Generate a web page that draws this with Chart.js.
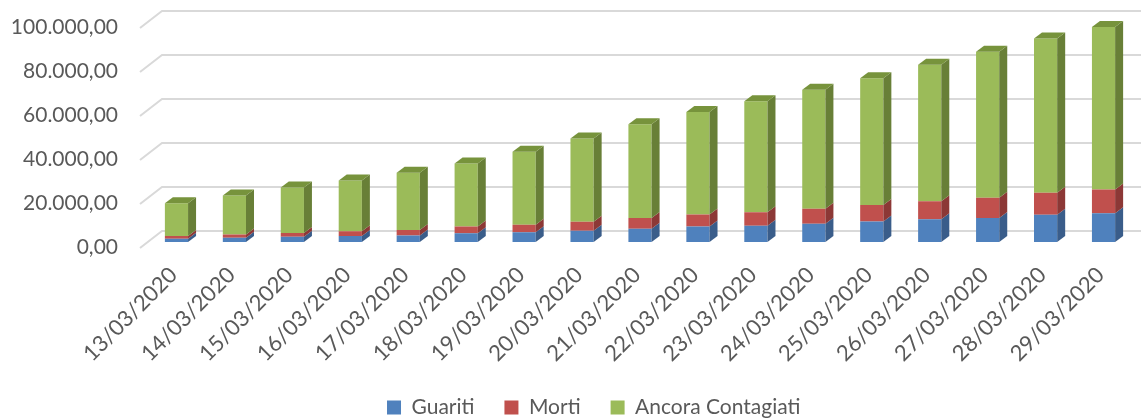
<!DOCTYPE html>
<html>
<head>
<meta charset="utf-8">
<script src="https://cdn.jsdelivr.net/npm/chart.js@4"></script>
<style>html,body{margin:0;padding:0;background:#fff}</style>
</head>
<body>
<canvas id="chart" width="1141" height="418"></canvas>
<script>
const labels = ["13/03/2020", "14/03/2020", "15/03/2020", "16/03/2020", "17/03/2020", "18/03/2020",
  "19/03/2020", "20/03/2020", "21/03/2020", "22/03/2020", "23/03/2020", "24/03/2020",
  "25/03/2020", "26/03/2020", "27/03/2020", "28/03/2020", "29/03/2020"];
const guariti = [1439, 1966, 2335, 2749, 2941, 4025, 4440, 5129, 6072, 7024, 7432, 8326, 9362, 10361, 10950, 12384, 13030];
const morti = [1266, 1441, 1809, 2158, 2503, 2978, 3405, 4032, 4825, 5476, 6077, 6820, 7503, 8165, 9134, 10023, 10779];
const contagiati = [14955, 17750, 20603, 23073, 26062, 28710, 33190, 37860, 42681, 46638, 50418, 54030, 57521, 62013, 66414, 70065, 73880];
const yMax = 100000;
const yStep = 20000;

const font = { family: "Lato", size: 21 };
const grey = "#595959";
const DX = 8, DY = 6;                     // bar depth
const sideColors = ["#3a5d8a", "#8c3836", "#687f37"];
const topColor = "#77933c";

function fmtIt(v) {
  return Math.round(v).toString().replace(/\B(?=(\d{3})+(?!\d))/g, ".") + ",00";
}

// fake 3d: back wall gridlines + bar sides/tops
const depth3d = {
  id: "depth3d",
  afterLayout(c) {
    c.legend.left = 55;
    c.legend.top += 10;
    c.legend.bottom += 10;
    c.scales.x.bottom = c.height;   // don't clip the rotated labels
  },
  beforeDatasetsDraw(c) {
    const { ctx, chartArea: a, scales: { y } } = c;
    ctx.save();
    ctx.strokeStyle = "#d9d9d9";
    ctx.lineWidth = 2;
    y.ticks.forEach(t => {
      const py = y.getPixelForValue(t.value);
      ctx.beginPath();
      ctx.moveTo(a.left - 7.5, py + 6);
      ctx.lineTo(a.left + 14.5, py - 11);
      ctx.lineTo(c.width, py - 11);
      ctx.stroke();
    });
    ctx.restore();
  },
  afterDatasetsDraw(c) {
    const ctx = c.ctx;
    const n = c.data.datasets.length;
    ctx.save();
    c.data.datasets.forEach((ds, i) => {
      c.getDatasetMeta(i).data.forEach(bar => {
        const { x, y, base, width } = bar.getProps(["x", "y", "base", "width"], true);
        const l = x - width / 2, r = x + width / 2;
        ctx.fillStyle = sideColors[i];
        ctx.beginPath();
        ctx.moveTo(r, y);
        ctx.lineTo(r + DX, y - DY);
        ctx.lineTo(r + DX, base - DY);
        ctx.lineTo(r, base);
        ctx.closePath();
        ctx.fill();
        if (i === n - 1) {
          ctx.fillStyle = topColor;
          ctx.beginPath();
          ctx.moveTo(l, y);
          ctx.lineTo(l + DX, y - DY);
          ctx.lineTo(r + DX, y - DY);
          ctx.lineTo(r, y);
          ctx.closePath();
          ctx.fill();
        }
      });
    });
    ctx.restore();
  }
};

new Chart(document.getElementById("chart"), {
  type: "bar",
  data: {
    labels: labels,
    datasets: [
      { label: "Guariti", data: guariti, backgroundColor: "#4f81bd" },
      { label: "Morti", data: morti, backgroundColor: "#c0504d" },
      { label: "Ancora Contagiati", data: contagiati, backgroundColor: "#9bbb59" }
    ]
  },
  options: {
    responsive: false,
    animation: false,
    layout: { padding: { left: 0, right: 8.5, top: 22, bottom: 0 } },
    datasets: { bar: { barPercentage: 0.4, categoryPercentage: 1 } },
    plugins: {
      tooltip: { enabled: false },
      legend: {
        position: "bottom",
        labels: { boxWidth: 14, boxHeight: 14, padding: 30, color: grey, font: font }
      }
    },
    scales: {
      x: {
        stacked: true,
        grid: { display: false, drawTicks: false },
        border: { display: false },
        ticks: { minRotation: 45, maxRotation: 45, padding: 20, labelOffset: -3, color: grey, font: { family: "Lato", size: 22 } },
        afterFit: s => { s.height = 115; s.paddingLeft = 0; s.paddingRight = 0; }
      },
      y: {
        stacked: true,
        min: 0,
        max: yMax,
        grid: { display: false, drawTicks: false },
        border: { display: false },
        ticks: { stepSize: yStep, padding: 29.5, labelOffset: 5, color: grey, font: font, callback: v => fmtIt(v) },
        afterFit: s => { s.width = 147.5; s.paddingTop = 0; s.paddingBottom = 0; }
      }
    }
  },
  plugins: [depth3d]
});
</script>
</body>
</html>
